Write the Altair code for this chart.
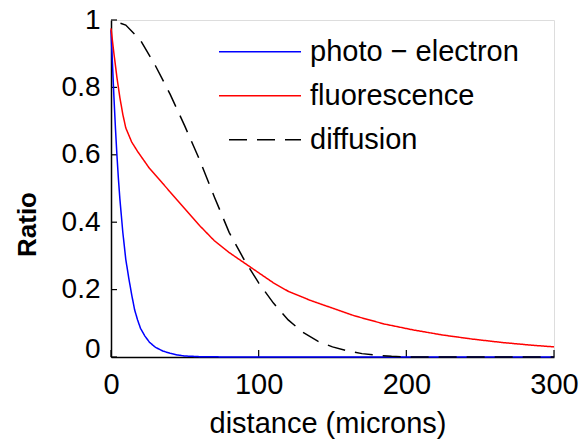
import altair as alt
import pandas as pd

series_names = ["photo − electron", "fluorescence", "diffusion"]
series_colors = ["#0000ff", "#ff0000", "#000000"]

photo_x = [0, 1, 2, 3, 4, 5, 6, 7, 8, 9, 10, 12, 14, 16, 18, 20, 23, 26, 30, 35,
           40, 45, 50, 60, 80, 100, 150, 200, 250, 300]
photo_y = [0.97, 0.87, 0.77, 0.68, 0.60, 0.53, 0.47, 0.42, 0.37, 0.33, 0.29, 0.235,
           0.185, 0.14, 0.11, 0.085, 0.062, 0.044, 0.029, 0.018, 0.011, 0.006, 0.003,
           0.001, 0, 0, 0, 0, 0, 0]

fluo_x = [0, 2, 4, 6, 8, 10, 14, 18, 22, 26, 30, 35, 40, 50, 60, 70, 80, 90, 100,
          110, 120, 135, 150, 165, 185, 205, 225, 245, 265, 285, 300]
fluo_y = [0.975, 0.90, 0.83, 0.77, 0.72, 0.68, 0.638, 0.61, 0.585, 0.56, 0.54, 0.515,
          0.49, 0.44, 0.39, 0.345, 0.31, 0.28, 0.25, 0.22, 0.195, 0.168, 0.145, 0.122,
          0.098, 0.08, 0.065, 0.053, 0.043, 0.035, 0.03]

diff_x = [0, 10, 20, 30, 40, 50, 60, 70, 80, 90, 100, 110, 120, 130, 140, 150, 160,
          170, 180, 190, 200, 250, 300]
diff_y = [1.0, 0.985, 0.94, 0.865, 0.78, 0.685, 0.585, 0.475, 0.37, 0.29, 0.22, 0.16,
          0.11, 0.073, 0.047, 0.03, 0.018, 0.01, 0.005, 0.002, 0, 0, 0]

x_ticks = [0, 100, 200, 300]
y_ticks = [0, 0.2, 0.4, 0.6, 0.8, 1.0]

rows = []
for name, xs, ys in zip(series_names, [photo_x, fluo_x, diff_x], [photo_y, fluo_y, diff_y]):
    for i, (a, b) in enumerate(zip(xs, ys)):
        rows.append({"series": name, "x": a, "y": b, "i": i})
df = pd.DataFrame(rows)

FONT = "Liberation Sans"
xscale = alt.Scale(domain=[0, 300], nice=False, zero=False)
yscale = alt.Scale(domain=[0, 1], nice=False, zero=False)

xaxis = alt.Axis(
    values=x_ticks, format="d", title="distance (microns)", grid=False,
    ticks=False, tickSize=0, domainColor="#000000", domainWidth=1.5,
    labelFlush=False, labelOverlap=False,
    labelFont=FONT, labelFontSize=29, labelColor="#000000", labelPadding=13,
    titleFont=FONT, titleFontSize=29, titleFontWeight="normal", titleColor="#000000",
    titleX=216.5, titleY=75, titleAlign="center", titleBaseline="alphabetic")
yaxis = alt.Axis(
    values=y_ticks, format=".1~f", title="Ratio", grid=False,
    ticks=False, tickSize=0, domainColor="#000000", domainWidth=1.5,
    labelFlush=False, labelOverlap=False,
    labelFont=FONT, labelFontSize=28, labelColor="#000000", labelPadding=11,
    labelBaseline={"condition": {"test": "datum.value === 0", "value": "alphabetic"},
                   "value": "middle"},
    titleFont=FONT, titleFontSize=26, titleFontWeight="bold", titleColor="#000000",
    titleX=-84, titleY=204, titleAngle=270, titleAlign="center",
    titleBaseline="middle")

legend = alt.Legend(
    title=None, orient="none", legendX=107, legendY=10, symbolType="stroke",
    symbolSize=6724, symbolStrokeWidth=1.5, labelFontSize=29, labelFont=FONT,
    labelColor="#000000", labelOffset=8, labelLimit=500, clipHeight=43.5,
    rowPadding=0, padding=0, symbolDashOffset=18,
)

xt = pd.DataFrame({"v": x_ticks})
yt = pd.DataFrame({"v": y_ticks})

xtick_layer = alt.Chart(xt).mark_rule(color="#000000", strokeWidth=1.2).encode(
    x=alt.X("v:Q", scale=xscale, axis=xaxis),
    y=alt.value(337), y2=alt.value(330),
)
ytick_layer = alt.Chart(yt).mark_rule(color="#000000", strokeWidth=1.2).encode(
    y=alt.Y("v:Q", scale=yscale, axis=yaxis),
    x=alt.value(0), x2=alt.value(6),
)

lines = alt.Chart(df).mark_line(strokeWidth=1.5, strokeDashOffset=18).encode(
    x=alt.X("x:Q", scale=xscale, axis=xaxis),
    y=alt.Y("y:Q", scale=yscale, axis=yaxis),
    color=alt.Color("series:N", scale=alt.Scale(domain=series_names, range=series_colors),
                    legend=legend),
    strokeDash=alt.StrokeDash("series:N", scale=alt.Scale(
        domain=series_names, range=[[1, 0], [1, 0], [18, 10]]), legend=legend),
    order="i:Q",
)

chart = alt.layer(xtick_layer, ytick_layer, lines).properties(
    width=443, height=337,
    autosize=alt.AutoSizeParams(type="none"),
    padding={"left": 111, "top": 20, "right": 34, "bottom": 83},
).configure_view(stroke=None).configure(background="white")

chart.save("out.html", embed_options={"renderer": "svg", "actions": False})
